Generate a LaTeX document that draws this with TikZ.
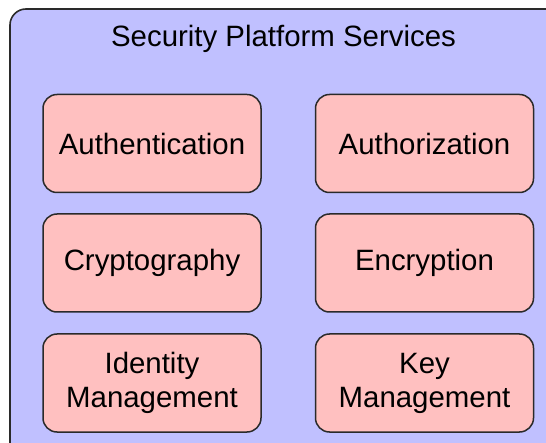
\documentclass[tikz,border=0pt]{standalone}
\usepackage{fontspec}
\setmainfont{Liberation Sans}
\definecolor{outerfill}{HTML}{C0C0FF}
\definecolor{innerfill}{HTML}{FFC0C0}
\definecolor{edge}{HTML}{2A2A2A}
\tikzset{
  svcbox/.style={draw=edge, line width=1.5pt, fill=innerfill, rounded corners=14pt,
    minimum width=218pt, minimum height=98pt, align=center, inner sep=0pt,
    font=\fontsize{29.4}{34}\selectfont},
  outerbox/.style={draw=edge, line width=1.6pt, fill=outerfill, rounded corners=16pt}
}
\begin{document}
\begin{tikzpicture}[x=1pt,y=-1pt]
\useasboundingbox (0,0) rectangle (546,443);
\fill[white] (0,0) rectangle (546,443);
\begin{scope}
\clip (0,0) rectangle (546,443);
\draw[outerbox] (10,9) rectangle (565,462);
\end{scope}
\node[anchor=base, font=\fontsize{29.4}{34}\selectfont] (title) at (283.5,47) {Security Platform Services};
\node[svcbox] (authn) at (152,143.5) {Authentication};
\node[svcbox] (authz) at (424.5,143.5) {Authorization};
\node[svcbox] (crypto) at (152,263) {Cryptography};
\node[svcbox] (enc) at (424.5,263) {Encryption};
\node[svcbox] (idm) at (152,383) {Identity\\Management};
\node[svcbox] (keym) at (424.5,383) {Key\\Management};
\end{tikzpicture}
\end{document}
